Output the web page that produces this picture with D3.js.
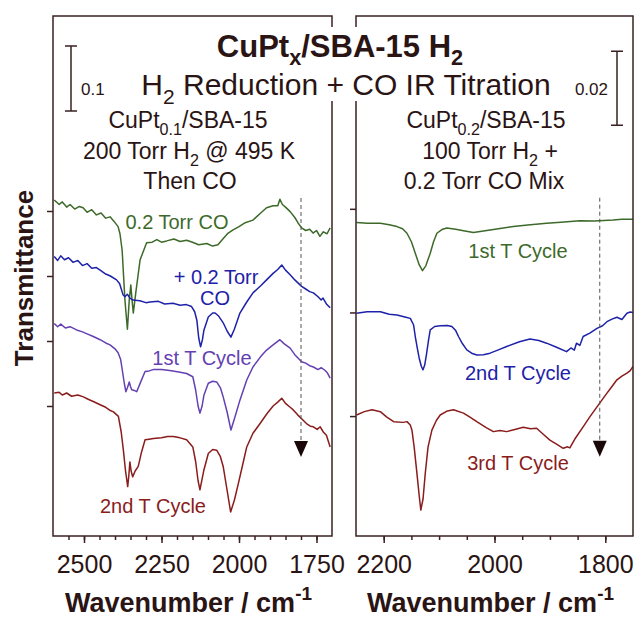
<!DOCTYPE html>
<html>
<head>
<meta charset="utf-8">
<script src="https://cdn.jsdelivr.net/npm/d3@7"></script>
<style>
  body { margin: 0; background: #fff; }
  svg text { font-family: "Liberation Sans", Arial, Helvetica, sans-serif; }
</style>
</head>
<body>
<div id="chart"></div>
<script>
// ---- data: [wavenumber cm-1, transmittance (offset, a.u.)] ----
const leftGreen = [[2596,0.517],[2580,0.510],[2570,0.514],[2556,0.506],[2545,0.510],[2530,0.503],[2515,0.507],[2503,0.505],[2490,0.498],[2475,0.502],[2460,0.494],[2445,0.497],[2430,0.489],[2416,0.491],[2403,0.484],[2390,0.476],[2384,0.465],[2377,0.440],[2368,0.363],[2360,0.318],[2354,0.363],[2349,0.386],[2345,0.363],[2341,0.343],[2332,0.378],[2319,0.425],[2298,0.451],[2280,0.452],[2265,0.456],[2250,0.452],[2233,0.454],[2210,0.457],[2190,0.453],[2169,0.455],[2150,0.452],[2130,0.448],[2104,0.450],[2085,0.446],[2068,0.448],[2050,0.458],[2035,0.466],[2019,0.471],[2000,0.476],[1980,0.482],[1955,0.486],[1930,0.497],[1911,0.505],[1890,0.508],[1875,0.508],[1868,0.518],[1860,0.510],[1850,0.506],[1835,0.499],[1820,0.490],[1810,0.482],[1798,0.474],[1785,0.470],[1772,0.472],[1761,0.466],[1750,0.470],[1739,0.461],[1728,0.468],[1716,0.465],[1706,0.474]];
const leftBlue = [[2596,0.430],[2585,0.424],[2575,0.431],[2563,0.425],[2550,0.428],[2535,0.421],[2520,0.424],[2505,0.416],[2490,0.419],[2475,0.412],[2460,0.413],[2448,0.409],[2430,0.403],[2415,0.400],[2395,0.394],[2385,0.388],[2374,0.371],[2368,0.368],[2360,0.372],[2352,0.366],[2342,0.363],[2320,0.362],[2300,0.359],[2287,0.360],[2260,0.361],[2240,0.357],[2213,0.358],[2190,0.355],[2170,0.356],[2153,0.353],[2143,0.345],[2136,0.332],[2130,0.305],[2124,0.291],[2118,0.302],[2113,0.317],[2099,0.337],[2085,0.343],[2077,0.343],[2065,0.338],[2051,0.328],[2038,0.315],[2026,0.306],[2015,0.318],[1997,0.343],[1975,0.360],[1955,0.374],[1930,0.385],[1911,0.394],[1890,0.404],[1875,0.410],[1862,0.417],[1850,0.409],[1835,0.402],[1820,0.394],[1798,0.384],[1785,0.380],[1772,0.376],[1760,0.374],[1745,0.368],[1735,0.363],[1729,0.366],[1718,0.357],[1706,0.351]];
const leftPurple = [[2596,0.327],[2585,0.322],[2575,0.326],[2560,0.320],[2545,0.322],[2524,0.317],[2505,0.314],[2490,0.311],[2470,0.307],[2448,0.302],[2430,0.297],[2416,0.294],[2400,0.288],[2390,0.282],[2382,0.272],[2378,0.260],[2370,0.235],[2365,0.222],[2360,0.228],[2354,0.237],[2350,0.230],[2346,0.225],[2338,0.224],[2330,0.222],[2318,0.236],[2303,0.253],[2290,0.254],[2277,0.256],[2250,0.256],[2230,0.255],[2213,0.254],[2190,0.252],[2169,0.250],[2149,0.245],[2140,0.225],[2132,0.200],[2126,0.189],[2119,0.200],[2113,0.217],[2099,0.235],[2085,0.238],[2072,0.237],[2060,0.228],[2051,0.214],[2038,0.190],[2026,0.163],[2015,0.180],[1997,0.209],[1975,0.240],[1955,0.260],[1930,0.276],[1911,0.286],[1890,0.294],[1868,0.302],[1855,0.296],[1835,0.289],[1820,0.279],[1798,0.268],[1785,0.266],[1772,0.262],[1760,0.260],[1745,0.256],[1735,0.259],[1723,0.255],[1715,0.251],[1706,0.243]];
const leftRed = [[2596,0.220],[2580,0.221],[2570,0.217],[2556,0.220],[2540,0.215],[2520,0.217],[2502,0.214],[2485,0.210],[2470,0.207],[2448,0.202],[2430,0.198],[2415,0.193],[2405,0.191],[2389,0.184],[2380,0.160],[2373,0.132],[2366,0.100],[2359,0.076],[2355,0.095],[2352,0.114],[2348,0.100],[2343,0.091],[2335,0.100],[2325,0.107],[2315,0.128],[2303,0.148],[2290,0.149],[2276,0.150],[2250,0.151],[2230,0.153],[2212,0.153],[2190,0.151],[2169,0.148],[2149,0.137],[2140,0.115],[2132,0.085],[2126,0.071],[2119,0.088],[2113,0.102],[2099,0.127],[2085,0.133],[2072,0.132],[2060,0.122],[2051,0.107],[2040,0.075],[2027,0.037],[2015,0.055],[2002,0.081],[1988,0.110],[1975,0.137],[1955,0.158],[1932,0.173],[1910,0.188],[1890,0.200],[1875,0.206],[1862,0.212],[1850,0.204],[1835,0.198],[1825,0.194],[1810,0.186],[1793,0.178],[1780,0.172],[1770,0.169],[1760,0.168],[1748,0.164],[1738,0.168],[1728,0.160],[1718,0.155],[1706,0.137]];

const rightGreen = [[2249,0.0847],[2230,0.0845],[2206,0.0845],[2190,0.0841],[2176,0.0836],[2166,0.0830],[2158,0.0818],[2150,0.0795],[2143,0.0764],[2136,0.0733],[2130,0.0717],[2124,0.0730],[2116,0.0764],[2110,0.0795],[2104,0.0818],[2095,0.0828],[2086,0.0832],[2070,0.0829],[2056,0.0825],[2038,0.0820],[2020,0.0824],[2008,0.0827],[1990,0.0831],[1966,0.0836],[1940,0.0840],[1906,0.0845],[1880,0.0848],[1846,0.0852],[1820,0.0851],[1786,0.0854],[1770,0.0856],[1750,0.0856]];
const rightBlue = [[2249,0.0602],[2230,0.0606],[2206,0.0606],[2190,0.0599],[2176,0.0597],[2160,0.0591],[2152,0.0588],[2146,0.0570],[2143,0.0539],[2139,0.0505],[2136,0.0481],[2132,0.0458],[2129,0.0449],[2126,0.0462],[2123,0.0489],[2119,0.0530],[2116,0.0557],[2108,0.0566],[2098,0.0568],[2085,0.0569],[2077,0.0566],[2070,0.0555],[2065,0.0539],[2058,0.0520],[2050,0.0503],[2040,0.0493],[2032,0.0489],[2020,0.0490],[2008,0.0494],[1993,0.0503],[1978,0.0512],[1955,0.0525],[1936,0.0532],[1920,0.0528],[1906,0.0521],[1888,0.0510],[1870,0.0498],[1862,0.0508],[1856,0.0502],[1852,0.0521],[1846,0.0515],[1840,0.0539],[1828,0.0548],[1815,0.0561],[1805,0.0568],[1797,0.0579],[1788,0.0586],[1779,0.0591],[1770,0.0585],[1761,0.0602],[1755,0.0605],[1750,0.0604]];
const rightRed = [[2249,0.0327],[2235,0.0336],[2221,0.0341],[2206,0.0336],[2195,0.0322],[2182,0.0309],[2165,0.0307],[2158,0.0309],[2152,0.0300],[2149,0.0286],[2145,0.0240],[2140,0.0169],[2136,0.0110],[2133,0.0070],[2129,0.0100],[2125,0.0169],[2120,0.0240],[2113,0.0286],[2105,0.0312],[2098,0.0327],[2085,0.0338],[2074,0.0341],[2056,0.0332],[2045,0.0322],[2032,0.0309],[2015,0.0293],[2002,0.0282],[1990,0.0285],[1978,0.0282],[1960,0.0289],[1948,0.0294],[1935,0.0290],[1924,0.0291],[1912,0.0275],[1900,0.0259],[1888,0.0248],[1876,0.0237],[1868,0.0241],[1864,0.0238],[1855,0.0262],[1840,0.0295],[1828,0.0322],[1815,0.0349],[1797,0.0386],[1790,0.0400],[1779,0.0422],[1770,0.0432],[1761,0.0440],[1755,0.0447],[1750,0.0458]];

const leftXTicks = [2500, 2250, 2000, 1750];
const rightXTicks = [2200, 2000, 1800];
const leftYTicks = [0.2, 0.3, 0.4, 0.5];
const rightYTicks = [0.0324, 0.0604, 0.0884];
const leftLabels = ['0.2 Torr CO', '+ 0.2 Torr', 'CO', '1st T Cycle', '2nd T Cycle'];
const rightLabels = ['1st T Cycle', '2nd T Cycle', '3rd T Cycle'];
const scaleBars = [0.1, 0.02];

// ---- layout ----
const width = 636, height = 617;
const plotTop = 16, plotBottom = 536;
const frameColor = '#3a2020';
const textColor = '#2a1414';
const green = '#3d6a2a', blue = '#1e22a8', purple = '#6440b2', red = '#8a1c1c';

const svg = d3.select('#chart').append('svg')
    .attr('width', width)
    .attr('height', height);

// add a text element made of normal / subscript / superscript parts
function richText(g, x, y, parts, opts) {
  let t = g.append('text')
    .attr('x', x).attr('y', y)
    .attr('text-anchor', opts.anchor || 'middle')
    .attr('font-size', opts.size)
    .attr('font-weight', opts.weight || 'normal')
    .attr('fill', opts.fill || textColor);
  let shift = 0;
  parts.forEach(p => {
    let s = typeof p === 'string' ? {t: p} : p;
    let target = s.sub ? (opts.subShift || 0.3) : (s.sup ? -0.45 : 0);
    let span = t.append('tspan').text(s.t);
    let sz = (s.sub || s.sup) ? 0.7 : 1;
    span.attr('font-size', opts.size * sz);
    span.attr('dy', ((target - shift) * opts.size) + 'px');
    shift = target;
  });
  return t;
}

const panels = [
  {
    x0: 53, x1: 332, xDomain: [2600, 1700], yDomain: [0, 0.8],
    xTicks: leftXTicks, yTicks: leftYTicks,
    traces: [[leftGreen, green], [leftBlue, blue], [leftPurple, purple], [leftRed, red]],
    labels: [
      {text: leftLabels[0], x: 177, y: 229, c: green},
      {text: leftLabels[1], x: 216, y: 284, c: blue},
      {text: leftLabels[2], x: 215, y: 305, c: blue},
      {text: leftLabels[3], x: 202, y: 365, c: purple},
      {text: leftLabels[4], x: 153, y: 513, c: red}
    ],
    marker: {wn: 1800, from: 0.52, to: 0.1215},
    bar: {px: 71, lo: 0.654, size: scaleBars[0], label: '0.1', lx: 81, anchor: 'start'}
  },
  {
    x0: 356, x1: 633, xDomain: [2250, 1750], yDomain: [0, 0.1405],
    xTicks: rightXTicks, yTicks: rightYTicks,
    traces: [[rightGreen, green], [rightBlue, blue], [rightRed, red]],
    labels: [
      {text: rightLabels[0], x: 518, y: 258, c: green},
      {text: rightLabels[1], x: 518, y: 380, c: blue},
      {text: rightLabels[2], x: 518, y: 470, c: red}
    ],
    marker: {wn: 1810, from: 0.0914, to: 0.0214},
    bar: {px: 617, lo: 0.111, size: scaleBars[1], label: '0.02', lx: 608, anchor: 'end'}
  }
];

panels.forEach((p, i) => {
  let x = d3.scaleLinear().domain(p.xDomain).range([p.x0, p.x1]);
  let y = d3.scaleLinear().domain(p.yDomain).range([plotBottom, plotTop]);
  let g = svg.append('g');

  g.append('clipPath').attr('id', 'clip' + i)
    .append('rect').attr('x', p.x0).attr('y', plotTop).attr('width', p.x1 - p.x0).attr('height', plotBottom - plotTop);

  // spectra
  let line = d3.line().x(d => x(d[0])).y(d => y(d[1]));
  p.traces.forEach(tr => {
    g.append('path')
      .datum(tr[0])
      .attr('clip-path', 'url(#clip' + i + ')')
      .attr('fill', 'none')
      .attr('stroke', tr[1])
      .attr('stroke-width', 1.5)
      .attr('stroke-linejoin', 'round')
      .attr('d', line);
  });

  // dashed guide with arrow head
  let mx = x(p.marker.wn);
  g.append('line')
    .attr('x1', mx).attr('x2', mx)
    .attr('y1', y(p.marker.from)).attr('y2', y(p.marker.to) - 14)
    .attr('stroke', '#555').attr('stroke-width', 1).attr('stroke-dasharray', '4,3');
  let ty = y(p.marker.to);
  g.append('path')
    .attr('d', `M${mx - 7},${ty - 16}L${mx + 7},${ty - 16}L${mx},${ty}Z`)
    .attr('fill', '#1a0808');

  // frame
  g.append('rect')
    .attr('x', p.x0).attr('y', plotTop)
    .attr('width', p.x1 - p.x0).attr('height', plotBottom - plotTop)
    .attr('fill', 'none').attr('stroke', frameColor).attr('stroke-width', 1.5);

  // bottom axis: minor + major
  let minor = d3.range(p.xDomain[0] - 50, p.xDomain[1], -50);
  let minorAxis = g.append('g').attr('transform', `translate(0,${plotBottom})`)
    .call(d3.axisBottom(x).tickValues(minor).tickSize(4).tickFormat(''));
  let majorAxis = g.append('g').attr('transform', `translate(0,${plotBottom})`)
    .call(d3.axisBottom(x).tickValues(p.xTicks).tickSize(7).tickPadding(12).tickFormat(d3.format('d')));
  [minorAxis, majorAxis].forEach(a => {
    a.select('.domain').remove();
    a.selectAll('line').attr('stroke', frameColor).attr('stroke-width', 1.5);
  });
  majorAxis.selectAll('text')
    .attr('fill', textColor)
    .style('font-size', '25px')
    .style('font-family', '"Liberation Sans", Arial, sans-serif');

  // left ticks (no labels)
  let yAxis = g.append('g').attr('transform', `translate(${p.x0},0)`)
    .call(d3.axisLeft(y).tickValues(p.yTicks).tickSize(6).tickFormat(''));
  yAxis.select('.domain').remove();
  yAxis.selectAll('line').attr('stroke', frameColor).attr('stroke-width', 1.5);

  // trace labels
  p.labels.forEach(l => {
    g.append('text')
      .attr('x', l.x).attr('y', l.y)
      .attr('text-anchor', 'middle')
      .attr('font-size', 20)
      .attr('fill', l.c)
      .text(l.text);
  });

  // scale bar
  let b = p.bar;
  let by0 = y(b.lo), by1 = y(b.lo + b.size);
  g.append('path')
    .attr('d', `M${b.px},${by0}V${by1}M${b.px - 6},${by0}H${b.px + 6}M${b.px - 6},${by1}H${b.px + 6}`)
    .attr('stroke', frameColor).attr('stroke-width', 1.5).attr('fill', 'none');
  g.append('text')
    .attr('x', b.lx).attr('y', 95)
    .attr('text-anchor', b.anchor)
    .attr('font-size', 17)
    .attr('fill', textColor)
    .text(b.label);

  // x axis title
  richText(g, (p.x0 + p.x1) / 2 - 4, 612, ['Wavenumber / cm', {t: '-1', sup: true}],
    {size: 27, weight: 'bold'});
});

// panel annotations
const ann = svg.append('g');
richText(ann, 188, 128, ['CuPt', {t: '0.1', sub: true}, '/SBA-15'], {size: 23});
richText(ann, 189, 159, ['200 Torr H', {t: '2', sub: true}, ' @ 495 K'], {size: 23});
richText(ann, 190, 189, ['Then CO'], {size: 23});
richText(ann, 486, 128, ['CuPt', {t: '0.2', sub: true}, '/SBA-15'], {size: 23});
richText(ann, 490, 159, ['100 Torr H', {t: '2', sub: true}, ' +'], {size: 23});
richText(ann, 484, 189, ['0.2 Torr CO Mix'], {size: 23});

// title over a white box that breaks the panel frames
svg.append('rect')
  .attr('x', 136).attr('y', 27).attr('width', 424).attr('height', 74)
  .attr('fill', '#fff');
richText(svg, 340, 57, ['CuPt', {t: 'x', sub: true}, '/SBA-15 H', {t: '2', sub: true}],
  {size: 31, weight: 'bold', subShift: 0.25});
richText(svg, 346, 95, ['H', {t: '2', sub: true}, ' Reduction + CO IR Titration'], {size: 30});

// y axis title
svg.append('text')
  .attr('transform', 'translate(33,278) rotate(-90)')
  .attr('text-anchor', 'middle')
  .attr('font-size', 26)
  .attr('font-weight', 'bold')
  .attr('fill', textColor)
  .text('Transmittance');
</script>
</body>
</html>
